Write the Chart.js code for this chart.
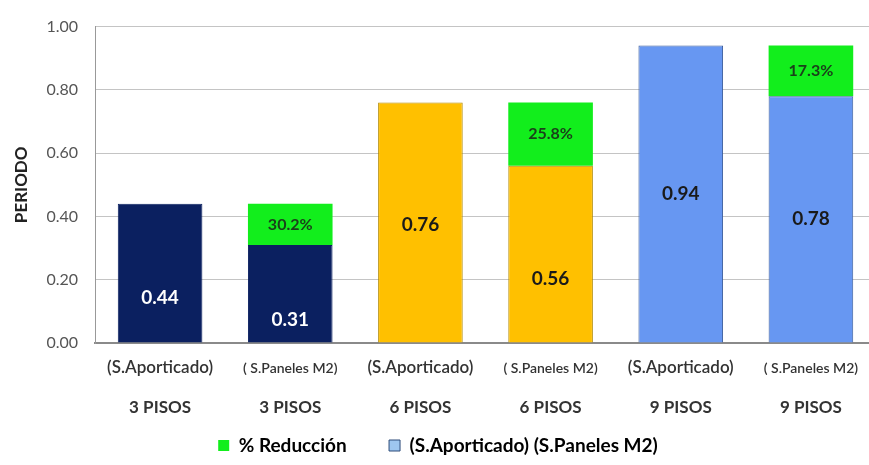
<!DOCTYPE html>
<html>
<head>
<meta charset="utf-8">
<script src="https://cdn.jsdelivr.net/npm/chart.js@4"></script>
<style>
  html, body { margin: 0; padding: 0; background: #fff; overflow: hidden; }
  #wrap { position: relative; width: 877px; height: 465px; }
</style>
</head>
<body>
<div id="wrap"><canvas id="chart"></canvas></div>
<script>
// categorias (dos lineas en el eje x)
const systems = ["(S.Aporticado)", "( S.Paneles M2)", "(S.Aporticado)", "( S.Paneles M2)", "(S.Aporticado)", "( S.Paneles M2)"];
const floors = ["3 PISOS", "3 PISOS", "6 PISOS", "6 PISOS", "9 PISOS", "9 PISOS"];

// periodo de cada sistema
const periods = [0.44, 0.31, 0.76, 0.56, 0.94, 0.78];
// diferencia (parte verde) y su porcentaje
const reduction = [0, 0.13, 0, 0.20, 0, 0.16];
const reductionPct = ["", "30.2%", "", "25.8%", "", "17.3%"];

const yTicks = [0, 0.2, 0.4, 0.6, 0.8, 1.0];

const NAVY = "#0b2060";
const GOLD = "#ffc000";
const BLUE = "#6797f2";
const GREEN = "#12ee1c";

const barColors = [NAVY, NAVY, GOLD, GOLD, BLUE, BLUE];
const barBorders = [NAVY, NAVY, "#b38a00", "#b38a00", "#3d5e9c", "#3d5e9c"];
const valueColors = ["#ffffff", "#ffffff", "#1a1a1a", "#1a1a1a", "#1a1a1a", "#1a1a1a"];
// donde cae la etiqueta dentro de la barra (fraccion desde abajo)
const valueSpots = [0.32, 0.23, 0.49, 0.36, 0.5, 0.5];

const FONT = "Lato, 'Open Sans', sans-serif";

const barLabels = {
  id: "barLabels",
  afterDatasetsDraw(chart) {
    const ctx = chart.ctx;
    ctx.save();
    ctx.textAlign = "center";
    ctx.textBaseline = "middle";

    const base = chart.getDatasetMeta(0).data;
    ctx.font = "bold 19px " + FONT;
    base.forEach((bar, i) => {
      const y = bar.base - (bar.base - bar.y) * valueSpots[i];
      ctx.fillStyle = valueColors[i];
      ctx.fillText(periods[i].toFixed(2), bar.x, y);
    });

    const top = chart.getDatasetMeta(1).data;
    ctx.font = "bold 16px " + FONT;
    ctx.fillStyle = "#1a401a";
    top.forEach((bar, i) => {
      if (!reduction[i]) return;
      ctx.fillText(reductionPct[i], bar.x, (bar.y + bar.base) / 2);
    });
    ctx.restore();
  }
};

const xLabels = {
  id: "xLabels",
  afterDraw(chart) {
    const ctx = chart.ctx;
    const xs = chart.scales.x;
    const bottom = chart.chartArea.bottom;
    ctx.save();
    ctx.textAlign = "center";
    ctx.textBaseline = "middle";
    ctx.fillStyle = "#333";
    systems.forEach((s, i) => {
      const x = xs.getPixelForValue(i);
      ctx.font = (i % 2 ? "600 14px " : "600 17px ") + FONT;
      ctx.fillText(s, x, bottom + 25);
      ctx.font = "bold 17px " + FONT;
      ctx.fillText(floors[i], x, bottom + 65);
    });
    ctx.restore();
  }
};

new Chart(document.getElementById("chart"), {
  type: "bar",
  data: {
    labels: systems.map((s, i) => [s, floors[i]]),
    datasets: [
      {
        label: "(S.Aporticado) (S.Paneles M2)",
        data: periods,
        backgroundColor: barColors,
        borderColor: barBorders,
        borderWidth: 1,
        borderSkipped: "bottom"
      },
      {
        label: "% Reducción",
        data: reduction,
        backgroundColor: GREEN,
        borderWidth: 0
      }
    ]
  },
  options: {
    animation: false,
    responsive: true,
    maintainAspectRatio: false,
    layout: { padding: { top: 20, right: 1, left: 0, bottom: 0 } },
    datasets: {
      bar: { categoryPercentage: 1, barPercentage: 0.65 }
    },
    plugins: {
      tooltip: { enabled: false },
      legend: {
        position: "bottom",
        labels: {
          boxWidth: 11,
          boxHeight: 11,
          padding: 10,
          color: "#333",
          font: { family: FONT, size: 19, weight: "bold" },
          generateLabels() {
            return [
              { text: "% Reducción       ", fillStyle: GREEN, strokeStyle: GREEN, lineWidth: 0, datasetIndex: 1 },
              { text: "(S.Aporticado) (S.Paneles M2)", fillStyle: "#9ec6ef", strokeStyle: "#2f4d7a", lineWidth: 1, datasetIndex: 0 }
            ];
          }
        }
      }
    },
    scales: {
      x: {
        stacked: true,
        ticks: { display: false },
        grid: { display: false, drawTicks: false },
        border: { display: true, color: "#8a8a8a", width: 2 },
        afterFit: s => { s.height = 83; }
      },
      y: {
        stacked: true,
        min: 0,
        max: 1,
        afterBuildTicks: s => { s.ticks = yTicks.map(v => ({ value: v })); },
        ticks: {
          padding: 17,
          color: "#555",
          font: { family: FONT, size: 16 },
          callback: v => v.toFixed(2)
        },
        grid: { color: "#c4c4c4", drawTicks: false },
        border: { display: true, color: "#999", width: 1 },
        title: {
          display: true,
          text: "PERIODO",
          color: "#222",
          padding: { top: 11, bottom: 0 },
          font: { family: FONT, size: 17, weight: "bold" }
        },
        afterFit: s => { s.width = 95; }
      }
    }
  },
  plugins: [barLabels, xLabels]
});
</script>
</body>
</html>
